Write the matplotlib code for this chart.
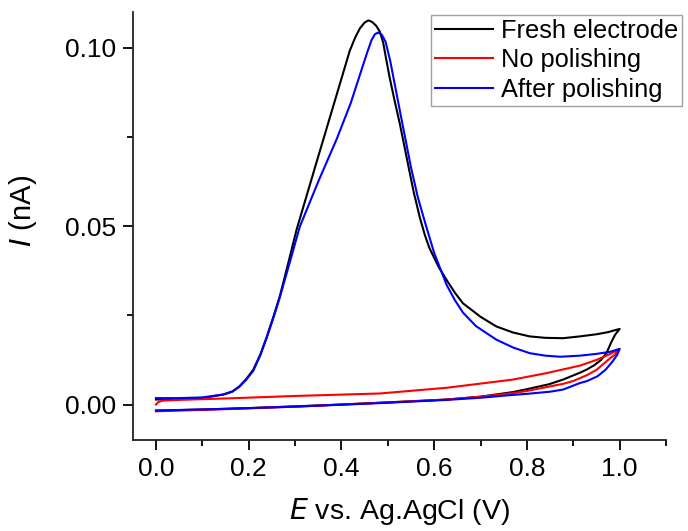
import matplotlib
matplotlib.use("Agg")
import numpy as np
import matplotlib.pyplot as plt
from matplotlib.ticker import MultipleLocator

plt.rcParams["font.family"]=["Liberation Sans","DejaVu Sans"]

# fresh electrode, forward then reverse scan
fresh_fwd_e=[0.0,0.05,0.10,0.145,0.165,0.18,0.195,0.21,0.225,0.239,0.253,0.267,
             0.285,0.303,0.346,0.382,0.418,0.43,0.44,0.45,0.458,0.466,0.475,0.483,
             0.49,0.497,0.504,0.515,0.526,0.547,0.556,0.569,0.58,0.59,0.61,0.627,
             0.645,0.662,0.70,0.734,0.77,0.806,0.84,0.878,0.914,0.95,0.975,1.0]
fresh_fwd_i=[0.0014,0.0016,0.0018,0.0028,0.0037,0.0051,0.0072,0.0098,0.0140,0.0190,
             0.0245,0.0303,0.0395,0.0489,0.0678,0.0835,0.0992,0.1030,0.1055,0.1071,
             0.1077,0.1073,0.1062,0.1045,0.1015,0.0965,0.0917,0.0850,0.0787,0.0652,
             0.0595,0.0525,0.0475,0.0438,0.0385,0.0349,0.0313,0.0284,0.0246,0.0219,
             0.0202,0.0191,0.0187,0.0186,0.0191,0.0197,0.0203,0.0212]
fresh_rev_e=[1.0,0.99,0.982,0.972,0.96,0.945,0.929,0.914,0.878,0.848,0.8,0.77,
             0.7,0.627,0.55,0.483,0.4,0.3,0.2,0.1,0.0]
fresh_rev_i=[0.0212,0.0195,0.0175,0.0145,0.0125,0.0110,0.0098,0.0089,0.0070,0.0057,
             0.0043,0.0035,0.0022,0.0014,0.0009,0.0005,0.0,-0.0005,-0.0010,-0.0014,
             -0.0017]

# no polishing
nopol_fwd_e=[0.0,0.005,0.015,0.05,0.15,0.3,0.483,0.627,0.77,0.842,0.914,0.95,0.98,1.0]
nopol_fwd_i=[0.0,0.0007,0.0011,0.0013,0.0017,0.0024,0.0031,0.0047,0.0070,0.0088,
             0.0109,0.0125,0.0142,0.0156]
nopol_rev_e=[1.0,0.99,0.976,0.95,0.929,0.9,0.878,0.8,0.77,0.7,0.627,0.483,0.3,0.15,0.0]
nopol_rev_i=[0.0156,0.0140,0.0126,0.0097,0.0082,0.0066,0.0058,0.0038,0.0032,0.0022,
             0.0014,0.0005,-0.0006,-0.0013,-0.0019]

# after polishing
pol_fwd_e=[0.0,0.05,0.10,0.145,0.165,0.18,0.195,0.21,0.225,0.239,0.253,0.267,
           0.29,0.31,0.35,0.39,0.42,0.44,0.455,0.465,0.472,0.479,0.487,0.495,
           0.505,0.519,0.526,0.55,0.565,0.58,0.60,0.627,0.645,0.662,0.69,0.734,
           0.77,0.806,0.84,0.872,0.914,0.95,0.98,1.0]
pol_fwd_i=[0.0018,0.0018,0.0020,0.0028,0.0036,0.0050,0.0070,0.0095,0.0138,0.0188,
           0.0242,0.0300,0.0405,0.0498,0.0625,0.0745,0.0845,0.0925,0.0985,0.1022,
           0.1038,0.1043,0.1037,0.1018,0.0965,0.0871,0.0824,0.0665,0.0580,0.0512,
           0.0425,0.0335,0.0292,0.0258,0.0220,0.0182,0.0160,0.0144,0.0137,0.0134,
           0.0137,0.0142,0.0148,0.0156]
pol_rev_e=[1.0,0.995,0.985,0.97,0.952,0.93,0.914,0.878,0.85,0.8,0.77,0.7,0.627,
           0.483,0.3,0.15,0.0]
pol_rev_i=[0.0156,0.0140,0.0121,0.0098,0.0079,0.0066,0.0060,0.0042,0.0036,0.0030,
           0.0027,0.0019,0.0013,0.0004,-0.0006,-0.0012,-0.0017]

labels=["Fresh electrode","No polishing","After polishing"]
colors=["#000000","#ff0000","#0000ff"]


fig=plt.figure(figsize=(6.88,5.31),dpi=100)
ax=fig.add_axes([0.193,0.171,0.775,0.806])

series=[
    (fresh_fwd_e+fresh_rev_e,fresh_fwd_i+fresh_rev_i),
    (nopol_fwd_e+nopol_rev_e,nopol_fwd_i+nopol_rev_i),
    (pol_fwd_e+pol_rev_e,pol_fwd_i+pol_rev_i),
]

for (e,i),lab,c in zip(series,labels,colors):
    ax.plot(e,i,color=c,lw=1.5,label=lab,solid_joinstyle="round")

ax.set_xlim(-0.05,1.1)
ax.set_ylim(-0.01,0.11)
ax.set_xticks([0.0,0.2,0.4,0.6,0.8,1.0])
ax.set_yticks([0.0,0.05,0.10])
ax.set_yticklabels(["0.00","0.05","0.10"])
ax.xaxis.set_minor_locator(MultipleLocator(0.1))
ax.yaxis.set_minor_locator(MultipleLocator(0.025))

for s in ["top","right"]:
    ax.spines[s].set_visible(False)
for s in ["left","bottom"]:
    ax.spines[s].set_linewidth(1.3)
    ax.spines[s].set_color("#222222")

ax.tick_params(which="major",direction="out",length=7,width=1.3,labelsize=19,pad=5)
ax.tick_params(which="minor",direction="out",length=4,width=1.3)

ax.set_xlabel("$\\it{E}$ vs. Ag.AgCl (V)",fontsize=20.5,labelpad=11)
ax.set_ylabel("$\\it{I}$ (nA)",fontsize=21)
ax.yaxis.set_label_coords(-0.175,0.535)

leg=ax.legend(
    loc="upper right",
    bbox_to_anchor=(0.991,0.972),
    bbox_transform=fig.transFigure,
    fontsize=18.3,
    frameon=True,
    fancybox=False,
    handlelength=2.3,
    handletextpad=0.3,
    labelspacing=0.22,
    borderpad=0.15,
    borderaxespad=0
)
leg.get_frame().set_edgecolor("#888888")
leg.get_frame().set_linewidth(1.0)

fig.savefig("out.png",dpi=100)
